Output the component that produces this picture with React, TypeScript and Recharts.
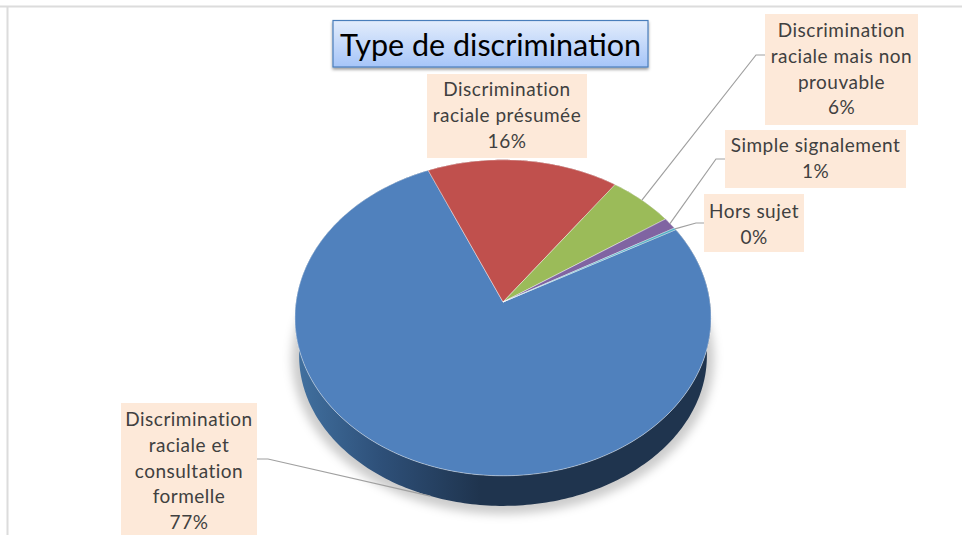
import { PieChart, Pie, Cell } from 'recharts';

const categories = [
  'Discrimination raciale et consultation formelle',
  'Discrimination raciale présumée',
  'Discrimination raciale mais non prouvable',
  'Simple signalement',
  'Hors sujet',
];
const values = [76.6, 16.4, 5.6, 1.2, 0.2];
const labelLines = [
  ['Discrimination', 'raciale et', 'consultation', 'formelle'],
  ['Discrimination', 'raciale présumée'],
  ['Discrimination', 'raciale mais non', 'prouvable'],
  ['Simple signalement'],
  ['Hors sujet'],
];
const topColors = ['#5081bd', '#c0504d', '#9bbb59', '#8064a2', '#4bacc6'];
const wallColors = ['url(#wallBlue)', '#7d3331', '#64793a', '#534169', '#317082'];

const data = categories.map((name, i) => ({ name, value: values[i] }));

// label boxes, and the elbow of the leader line (none for the red slice)
const boxes = [
  { x: 121, y: 403, w: 136, h: 140, first: 420, elbow: [[257, 459], [268, 459]], wall: true },
  { x: 427, y: 74, w: 160, h: 84, first: 90, elbow: null, wall: false },
  { x: 765, y: 14, w: 153, h: 111, first: 31, elbow: [[765, 55], [756, 55]], wall: false },
  { x: 725, y: 130, w: 181, h: 58, first: 146, elbow: [[725, 159], [716, 159]], wall: false },
  { x: 704, y: 194, w: 100, h: 58, first: 212, elbow: [[704, 223], [696, 223]], wall: false },
];

const W = 962;
const H = 535;
const CX = 503;
const CY = 302;
const RADIUS = 207;
const SQUASH = 0.7556;
const TILT = 0.1; // far side of the pie is smaller
const RAD = Math.PI / 180;

// circle angle -> point on the tilted top face
function project(cx, cy, r, deg) {
  const den = 1 + TILT * Math.sin(deg * RAD);
  return [cx + (r * Math.cos(deg * RAD)) / den, cy - (r * SQUASH * Math.sin(deg * RAD)) / den];
}

// same angle on the lower rim
function projectLow(cx, cy, r, deg, grow = 0, drop = 38.8) {
  const [x, y] = project(cx, cy, r, deg);
  return [cx + (x - cx) * (0.98 + grow), cy + drop + (y - cy) * (0.95 + grow)];
}

function arc(fn, start, end) {
  const pts = [];
  const n = Math.max(2, Math.ceil(Math.abs(end - start)));
  for (let i = 0; i <= n; i++) pts.push(fn(start + ((end - start) * i) / n));
  return pts;
}

const toPath = (pts) => 'M' + pts.map((p) => p[0].toFixed(2) + ' ' + p[1].toFixed(2)).join('L') + 'Z';

function TopShape(props) {
  const { cx, cy, outerRadius, startAngle, endAngle, fill } = props;
  const rim = arc((a) => project(cx, cy, outerRadius, a), startAngle, endAngle);
  return <path d={toPath([[cx, cy], ...rim])} fill={fill} stroke="#ffffff" strokeOpacity={0.55} strokeWidth={0.8} />;
}

function WallShape(props) {
  const { cx, cy, outerRadius, startAngle, endAngle, fill } = props;
  const upper = arc((a) => project(cx, cy, outerRadius, a), startAngle, endAngle);
  const lower = arc((a) => projectLow(cx, cy, outerRadius, a), endAngle, startAngle);
  return <path d={toPath([...upper, ...lower])} fill={fill} />;
}

function ShadowShape(props) {
  const { cx, cy, outerRadius, startAngle, endAngle } = props;
  const rim = arc((a) => projectLow(cx, cy, outerRadius, a, 0.035, 41), startAngle, endAngle);
  return <path d={toPath([[cx, cy + 41], ...rim])} fill="#000000" fillOpacity={0.2} filter="url(#pieShadow)" />;
}

function renderLabel(props) {
  const { cx, cy, outerRadius, midAngle, percent, index } = props;
  const box = boxes[index];
  const lines = [...labelLines[index], Math.round(percent * 100) + '%'];
  const tip = box.wall
    ? projectLow(cx, cy, outerRadius, midAngle)
    : project(cx, cy, outerRadius, midAngle);
  return (
    <g key={index}>
      {box.elbow && (
        <polyline
          points={[...box.elbow, tip].map((p) => p.join(',')).join(' ')}
          fill="none"
          stroke="#a0a0a0"
          strokeWidth={1.2}
        />
      )}
      <rect x={box.x} y={box.y} width={box.w} height={box.h} fill="#fde9d9" />
      {lines.map((line, i) => (
        <text
          key={i}
          x={box.x + box.w / 2}
          y={box.first + i * 25.8 + 6}
          textAnchor="middle"
          fontFamily="Lato, sans-serif"
          fontSize={19}
          letterSpacing={0.5}
          fill="#404040"
        >
          {line}
        </text>
      ))}
    </g>
  );
}

export default function App() {
  return (
    <div style={{ position: 'absolute', left: 0, top: 0, width: W, height: H, background: '#ffffff', overflow: 'hidden' }}>
      <PieChart width={W} height={H} margin={{ top: 0, right: 0, bottom: 0, left: 0 }}>
        <defs>
          <linearGradient id="wallBlue" gradientUnits="userSpaceOnUse" x1="298" y1="0" x2="480" y2="0">
            <stop offset="0%" stopColor="#41709f" />
            <stop offset="45%" stopColor="#2e5079" />
            <stop offset="100%" stopColor="#1f344e" />
          </linearGradient>
          <linearGradient id="titleFill" x1="0" y1="0" x2="0" y2="1">
            <stop offset="0%" stopColor="#e3edfc" />
            <stop offset="100%" stopColor="#a6c5f8" />
          </linearGradient>
          <filter id="pieShadow" x="-20%" y="-20%" width="140%" height="140%">
            <feGaussianBlur stdDeviation="5" />
          </filter>
          <filter id="titleShadow" x="-5%" y="-20%" width="110%" height="150%">
            <feDropShadow dx="0" dy="2" stdDeviation="1.5" floodColor="#000000" floodOpacity="0.4" />
          </filter>
        </defs>
        <line x1={0} y1={6.5} x2={W} y2={6.5} stroke="#dcdcdc" strokeWidth={2} />
        <line x1={7.5} y1={6} x2={7.5} y2={H} stroke="#dcdcdc" strokeWidth={2} />
        <Pie
          data={data}
          dataKey="value"
          nameKey="name"
          cx={CX}
          cy={CY}
          outerRadius={RADIUS}
          startAngle={389}
          endAngle={29}
          stroke="none"
          isAnimationActive={false}
          shape={ShadowShape}
        />
        <Pie
          data={data}
          dataKey="value"
          nameKey="name"
          cx={CX}
          cy={CY}
          outerRadius={RADIUS}
          startAngle={389}
          endAngle={29}
          stroke="none"
          isAnimationActive={false}
          shape={WallShape}
        >
          {data.map((entry, index) => (
            <Cell key={`wall-${index}`} fill={wallColors[index]} />
          ))}
        </Pie>
        <Pie
          data={data}
          dataKey="value"
          nameKey="name"
          cx={CX}
          cy={CY}
          outerRadius={RADIUS}
          startAngle={389}
          endAngle={29}
          isAnimationActive={false}
          shape={TopShape}
          label={renderLabel}
          labelLine={false}
        >
          {data.map((entry, index) => (
            <Cell key={`top-${index}`} fill={topColors[index]} />
          ))}
        </Pie>
        <rect x={333} y={20.5} width={315} height={46.5} fill="url(#titleFill)" stroke="#4a7ebb" strokeWidth={1.2} filter="url(#titleShadow)" />
        <text x={490.5} y={56} textAnchor="middle" fontFamily="Lato, sans-serif" fontSize={30.5} fill="#000000">
          Type de discrimination
        </text>
      </PieChart>
    </div>
  );
}
